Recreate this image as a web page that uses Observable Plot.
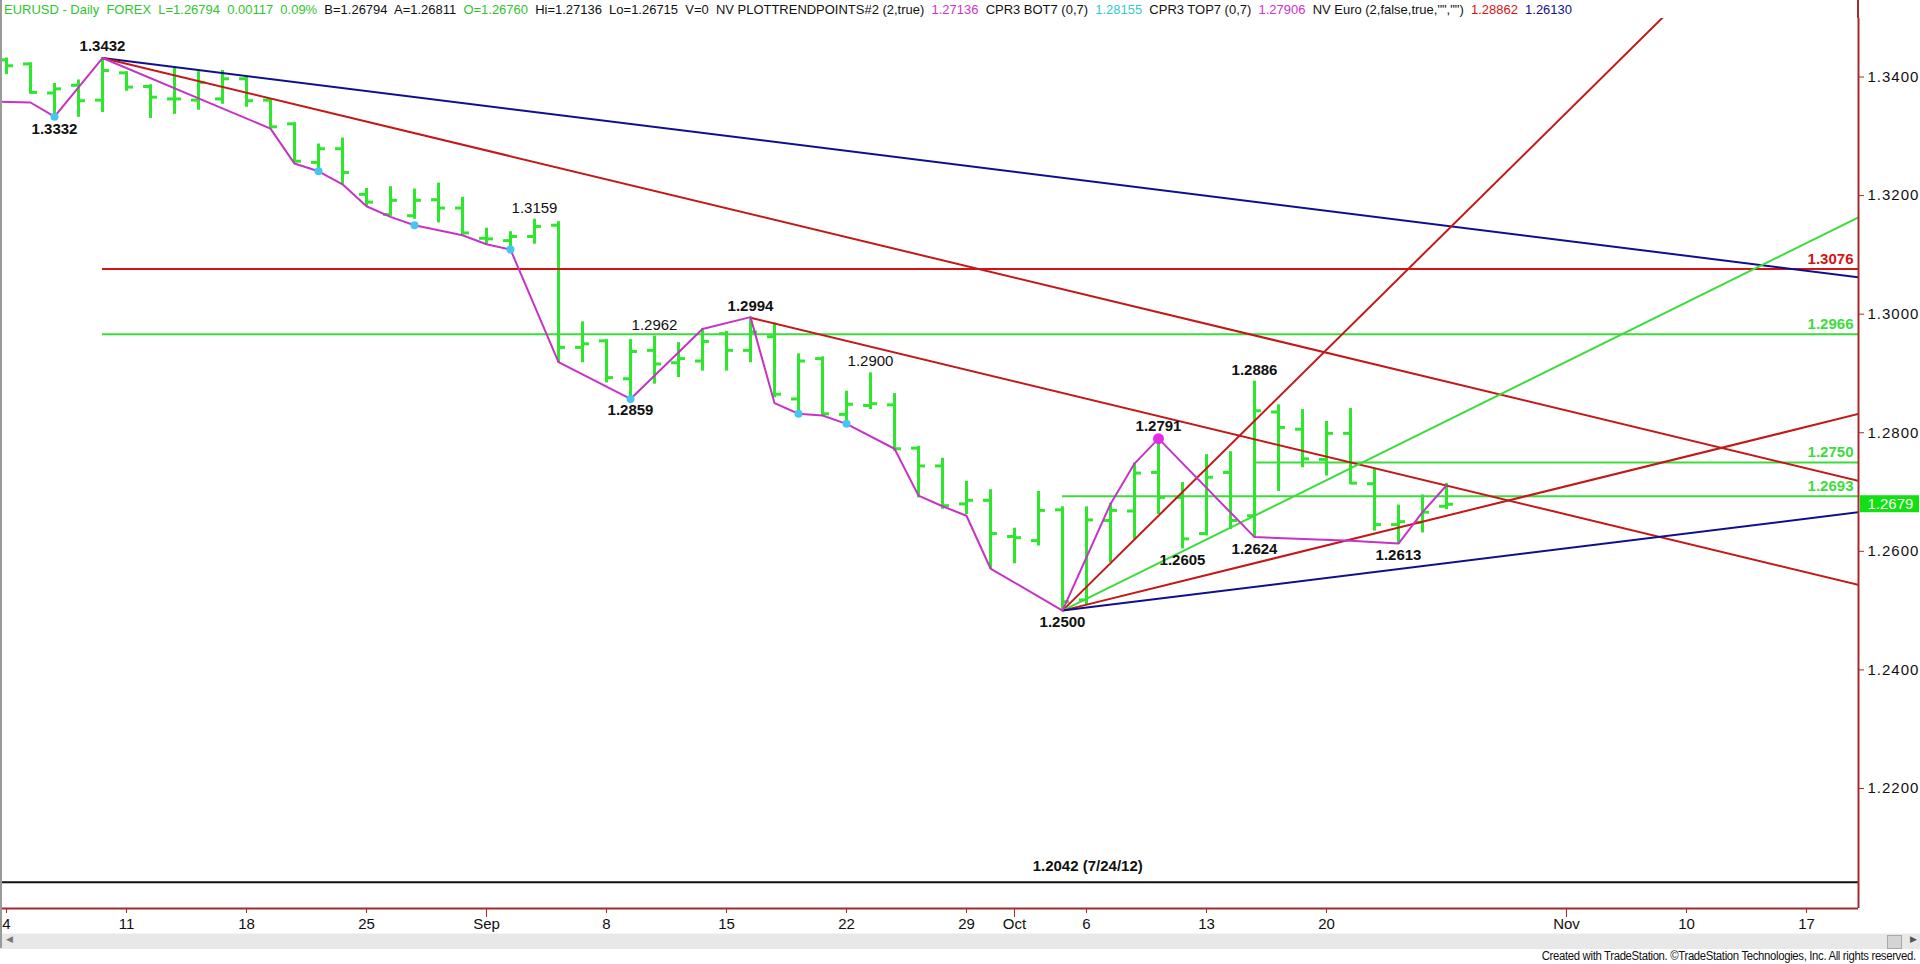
<!DOCTYPE html>
<html>
<head>
<meta charset="utf-8">
<script src="https://cdn.jsdelivr.net/npm/d3@7"></script>
<script src="https://cdn.jsdelivr.net/npm/@observablehq/plot@0.6"></script>
<style>
html,body{margin:0;padding:0;background:#fff;width:1920px;height:964px;overflow:hidden;font-family:"Liberation Sans",Arial,sans-serif;}
#wrap{position:relative;width:1920px;height:964px;}
#header{position:absolute;left:0;top:0;width:1920px;height:18px;}
#chart{position:absolute;left:0;top:18px;width:1920px;}
#scroll{position:absolute;left:0;top:933px;width:1920px;height:15px;background:#e8e8e8;border-top:1px solid #f4f4f4;}
#thumb{position:absolute;left:1887px;top:1px;width:13px;height:12px;background:#d4d4d4;border:1px solid #a8a8a8;}
#larrow{position:absolute;left:6px;top:0;font-size:9px;color:#777;}
#rarrow{position:absolute;left:1910px;top:0;font-size:9px;color:#555;}
#caption{position:absolute;right:4px;top:949px;height:14px;line-height:14px;font-size:12px;color:#111;white-space:nowrap;letter-spacing:-0.35px;transform-origin:right center;}
#leftborder{position:absolute;left:0;top:0;width:2px;height:948px;background:#9a9a9a;}
#headaxis{position:absolute;left:1857px;top:0;width:2px;height:18px;background:#a52a2a;}
[aria-label="y-axis tick label"] text{letter-spacing:1px;}
</style>
</head>
<body>
<div id="wrap">
  <div id="header"></div>
  <div id="headaxis"></div>
  <div id="chart"></div>
  <div id="scroll"><span id="larrow">&#9664;</span><div id="thumb"></div><span id="rarrow">&#9654;</span></div>
  <div id="caption"></div>
  <div id="leftborder"></div>
</div>
<script>
// ---------------- data ----------------
const barOpen  = [1.3429,1.3422,1.3373,1.3386,1.3361,1.3407,1.3384,1.3363,1.3361,1.3363,
                  1.3397,1.3361,1.3321,1.3256,1.3279,1.3202,1.3168,1.3166,1.3193,1.3179,
                  1.3128,1.3124,1.3131,1.3150,1.2944,1.2955,1.2891,1.2939,1.2918,1.2921,
                  1.2967,1.2939,1.2962,1.2857,1.2925,1.2831,1.2846,1.2847,1.2774,1.2744,
                  1.2680,1.2686,1.2625,1.2618,1.2670,1.2518,1.2652,1.2668,1.2733,1.2691,
                  1.2630,1.2733,1.2660,1.2835,1.2806,1.2755,1.2799,1.2714,1.2645,1.2649,
                  1.26760];
const barHigh  = [1.3431,1.3423,1.3388,1.3394,1.3432,1.3408,1.3386,1.3414,1.3408,1.3410,
                  1.3399,1.3361,1.3322,1.3286,1.3296,1.3211,1.3214,1.3210,1.3220,1.3196,
                  1.3144,1.3138,1.3159,1.3155,1.2986,1.2956,1.2956,1.2962,1.2951,1.2975,
                  1.2970,1.2994,1.2984,1.2932,1.2927,1.2869,1.2900,1.2865,1.2776,1.2756,
                  1.2717,1.2703,1.2638,1.2700,1.2674,1.2674,1.2680,1.2748,1.2791,1.2715,
                  1.2762,1.2767,1.2886,1.2846,1.2838,1.2818,1.2840,1.2739,1.2677,1.2694,
                  1.27136];
const barLow   = [1.3405,1.3372,1.3332,1.3333,1.3341,1.3377,1.3331,1.3338,1.3345,1.3355,
                  1.3350,1.3314,1.3256,1.3239,1.3220,1.3183,1.3166,1.3161,1.3155,1.3135,
                  1.3119,1.3113,1.3119,1.2919,1.2919,1.2885,1.2859,1.2883,1.2894,1.2905,
                  1.2905,1.2919,1.2860,1.2832,1.2829,1.2815,1.2840,1.2770,1.2691,1.2672,
                  1.2663,1.2571,1.2580,1.2610,1.2500,1.2510,1.2582,1.2621,1.2663,1.2605,
                  1.2627,1.2638,1.2624,1.2702,1.2742,1.2728,1.2714,1.2635,1.2613,1.2632,
                  1.26715];
const barClose = [1.3419,1.3374,1.3380,1.3360,1.3411,1.3383,1.3366,1.3363,1.3391,1.3397,
                  1.3360,1.3316,1.3258,1.3279,1.3239,1.3189,1.3192,1.3192,1.3179,1.3137,
                  1.3127,1.3131,1.3148,1.2944,1.2950,1.2893,1.2937,1.2916,1.2925,1.2954,
                  1.2939,1.2970,1.2865,1.2921,1.2832,1.2848,1.2849,1.2773,1.2744,1.2677,
                  1.2686,1.2630,1.2623,1.2669,1.2515,1.2653,1.2669,1.2732,1.2691,1.2621,
                  1.2725,1.2652,1.2837,1.2809,1.2756,1.2799,1.2715,1.2645,1.2650,1.2666,
                  1.26794];

// x-axis tick labels (trading-day calendar)
const xTickDates  = ["2014-08-04","2014-08-11","2014-08-18","2014-08-25","2014-09-01","2014-09-08","2014-09-15","2014-09-22","2014-09-29","2014-10-01","2014-10-06","2014-10-13","2014-10-20","2014-11-03","2014-11-10","2014-11-17"];
const xTickLabels = ["4","11","18","25","Sep","8","15","22","29","Oct","6","13","20","Nov","10","17"];
const monthTickLabels = ["Sep","Oct","Nov"];
const yTicks = [1.22,1.24,1.26,1.28,1.30,1.32,1.34];

// swing (trend point) polyline
const swingDates  = ["2014-08-01","2014-08-05","2014-08-06","2014-08-08","2014-08-19","2014-08-20","2014-08-21","2014-08-22","2014-08-25","2014-08-26","2014-08-27","2014-08-29","2014-09-01","2014-09-02","2014-09-04","2014-09-09","2014-09-12","2014-09-16","2014-09-17","2014-09-18","2014-09-19","2014-09-22","2014-09-24","2014-09-25","2014-09-26","2014-09-29","2014-09-30","2014-10-03","2014-10-07","2014-10-08","2014-10-09","2014-10-15","2014-10-21","2014-10-23","2014-10-24","2014-10-27"];
const swingValues = [1.3359,1.3357,1.3333,1.3432,1.3313,1.3254,1.3241,1.3219,1.3182,1.3164,1.3150,1.3133,1.3118,1.3109,1.2919,1.2857,1.2975,1.2995,1.2850,1.2832,1.2829,1.2815,1.2773,1.2694,1.2676,1.2660,1.2571,1.2500,1.2680,1.2748,1.2790,1.2624,1.2618,1.2613,1.2666,1.2711];

const cyanDotDates  = ["2014-08-06","2014-08-21","2014-08-27","2014-09-02","2014-09-09","2014-09-18","2014-09-22"];
const cyanDotValues = [1.3333,1.3241,1.3150,1.3109,1.2857,1.2832,1.2815];
const pinkDotDates  = ["2014-10-09"];
const pinkDotValues = [1.2790];

// swing labels
const labelDates  = ["2014-08-06","2014-08-08","2014-09-03","2014-09-09","2014-09-10","2014-09-16","2014-09-23","2014-10-03","2014-10-09","2014-10-10","2014-10-15","2014-10-15","2014-10-23"];
const labelValues = [1.3332,1.3432,1.3159,1.2859,1.2962,1.2994,1.2900,1.2500,1.2791,1.2605,1.2886,1.2624,1.2613];
const labelSides  = ["below","above","above","below","above","above","above","below","above","below","above","below","below"];
const labelBold   = [true,true,false,true,false,true,false,true,true,true,true,true,true];

// trend lines: anchor point and a second point (value on 2014-10-27)
const trendStartDates  = ["2014-08-08","2014-08-08","2014-09-16","2014-10-03","2014-10-03","2014-10-03","2014-10-03"];
const trendStartValues = [1.3432,1.3432,1.2994,1.2500,1.2500,1.2500,1.2500];
const trendEndDates    = ["2014-10-27","2014-10-27","2014-10-27","2014-10-27","2014-10-27","2014-10-27","2014-10-27"];
const trendEndValues   = [1.3149,1.28862,1.2711,1.3140,1.2820,1.2660,1.2580];
const trendColors      = ["#10108c","#c41818","#c41818","#c41818","#3ddc3d","#c41818","#10108c"];

// horizontal levels
const levelValues = [1.3076,1.2966,1.2750,1.2693];
const levelStart  = ["2014-08-08","2014-08-08","2014-10-15","2014-10-03"];
const levelColors = ["#d41414","#3ddc3d","#3ddc3d","#3ddc3d"];
const supportValue = 1.2042;
const supportText  = "1.2042 (7/24/12)";
const supportLabelDate = "2014-10-06";

// header legend
const headerTexts  = ["EURUSD - Daily  FOREX  L=1.26794  0.00117  0.09%  ","B=1.26794  A=1.26811  ","O=1.26760  ","Hi=1.27136  Lo=1.26715  V=0  NV PLOTTRENDPOINTS#2 (2,true)  ","1.27136  ","CPR3 BOT7 (0,7)  ","1.28155  ","CPR3 TOP7 (0,7)  ","1.27906  ","NV Euro (2,false,true,\"\",\"\")  ","1.28862  ","1.26130"];
const headerColors = ["#2fc42f","#111","#2fc42f","#111","#cc33cc","#111","#33cccc","#111","#cc33cc","#111","#d41414","#10108c"];
const captionText = "Created with TradeStation. \u00A9TradeStation Technologies, Inc. All rights reserved.";

// ---------------- build ----------------
const fmtDay = d3.utcFormat("%Y-%m-%d");
const calendar = d3.utcDays(new Date(Date.UTC(2014,6,28)), new Date(Date.UTC(2014,10,22)))
  .filter(d => d.getUTCDay() !== 0 && d.getUTCDay() !== 6);
const base = calendar.findIndex(d => fmtDay(d) === "2014-08-04");
const ix = s => calendar.findIndex(d => fmtDay(d) === s) - base;

const bars = barOpen.map((o, i) => ({i, open: o, high: barHigh[i], low: barLow[i], close: barClose[i]}));
const xMin = -0.25, xMax = 77.1667;
const yMin = 1.199757, yMax = 1.349867;
const plotH = 890;
const pxY = (yMax - yMin) / plotH;   // price per pixel
const pxX = (xMax - xMin) / 1858;    // index per pixel

const tickIdx = xTickDates.map(ix);
const tickLabelMap = new Map(tickIdx.map((t, k) => [t, xTickLabels[k]]));
const monthIdx = tickIdx.filter((t, k) => monthTickLabels.includes(xTickLabels[k]));

const swing = swingDates.map((d, k) => ({i: ix(d), p: swingValues[k]}));
const cyan = cyanDotDates.map((d, k) => ({i: ix(d), p: cyanDotValues[k]}));
const pink = pinkDotDates.map((d, k) => ({i: ix(d), p: pinkDotValues[k]}));
const labels = labelDates.map((d, k) => ({i: ix(d), p: labelValues[k], side: labelSides[k], bold: labelBold[k], t: d3.format(".4f")(labelValues[k])}));

const trends = trendStartDates.map((d, k) => {
  const a = ix(d), b = ix(trendEndDates[k]);
  const slope = (trendEndValues[k] - trendStartValues[k]) / (b - a);
  return {x1: a, y1: trendStartValues[k], x2: xMax, y2: trendStartValues[k] + slope * (xMax - a), c: trendColors[k]};
});
const levels = levelValues.map((v, k) => ({p: v, from: ix(levelStart[k]), c: levelColors[k], t: d3.format(".4f")(v)}));
const lastClose = barClose[barClose.length - 1];

const green = "#2ee62e";
const axisRed = "#a52a2a";
const tickLen = 0.29;

function labelMarks(side, bold) {
  return Plot.text(labels.filter(d => d.side === side && d.bold === bold), {
    x: "i", y: "p", text: "t", dy: side === "above" ? -12 : 12,
    fontSize: 15, fontWeight: bold ? "bold" : "normal", fill: "#111", letterSpacing: "0.4px"
  });
}

const chart = Plot.plot({
  width: 1920, height: 915,
  marginTop: 0, marginLeft: 0, marginRight: 62, marginBottom: 25,
  x: {domain: [xMin, xMax], axis: null},
  y: {domain: [yMin, yMax], axis: null},
  style: {fontFamily: "'Liberation Sans', Arial, sans-serif", background: "white", overflow: "visible"},
  marks: [
    // OHLC bars
    Plot.ruleX(bars, {x: "i", y1: d => d.low - 0.6 * pxY, y2: d => d.high + 0.6 * pxY, stroke: green, strokeWidth: 3}),
    Plot.ruleY(bars, {y: "open", x1: d => d.i - tickLen, x2: "i", stroke: green, strokeWidth: 3}),
    Plot.ruleY(bars, {y: "close", x1: "i", x2: d => d.i + tickLen, stroke: green, strokeWidth: 3}),
    // horizontal levels
    Plot.ruleY(levels, {y: "p", x1: "from", x2: xMax, stroke: "c", strokeWidth: 2}),
    Plot.ruleY([supportValue], {x1: xMin, x2: xMax, stroke: "#111", strokeWidth: 2}),
    // trend lines
    Plot.link(trends, {x1: "x1", y1: "y1", x2: "x2", y2: "y2", stroke: "c", strokeWidth: 2, clip: true}),
    // swing line
    Plot.line(swing, {x: "i", y: "p", stroke: "#c633c6", strokeWidth: 2, clip: true}),
    Plot.dot(cyan, {x: "i", y: "p", r: 4, fill: "#45c6f2"}),
    Plot.dot(pink, {x: "i", y: "p", r: 5.5, fill: "#e62ae6"}),
    // swing labels
    labelMarks("above", true), labelMarks("above", false),
    labelMarks("below", true), labelMarks("below", false),
    // level labels
    Plot.text(levels, {x: xMax, y: "p", text: "t", textAnchor: "end", dx: -5, dy: -10, fontSize: 15, fontWeight: "bold", fill: "c", letterSpacing: "0.4px"}),
    Plot.text([supportValue], {x: ix(supportLabelDate) + 0.05, y: d => d, text: () => supportText, dy: -16, fontSize: 15, fontWeight: "bold", fill: "#111"}),
    // axes frame lines
    Plot.ruleX([xMax], {stroke: axisRed, strokeWidth: 2}),
    Plot.ruleY([yMin], {stroke: axisRed, strokeWidth: 2}),
    // x axis
    Plot.axisX({ticks: tickIdx, tickSize: 5, tickFormat: () => "", color: axisRed}),
    Plot.axisX({ticks: monthIdx, tickSize: 9, tickFormat: () => "", color: axisRed}),
    Plot.axisX({ticks: tickIdx, tickSize: 0, tickPadding: 10, tickFormat: d => tickLabelMap.get(d), fontSize: 15, color: "#111"}),
    // y axis (right)
    Plot.axisY({anchor: "right", ticks: yTicks, tickSize: 5, tickFormat: () => "", color: axisRed}),
    Plot.axisY({anchor: "right", ticks: yTicks, tickSize: 0, tickPadding: 9, tickFormat: d3.format(".4f"), fontSize: 15, color: "#111"}),
    // last price tag
    Plot.rect([lastClose], {x1: xMax + 2 * pxX, x2: xMax + 61 * pxX, y1: d => d + 8.5 * pxY, y2: d => d - 8.5 * pxY, fill: "#12e012"}),
    Plot.text([lastClose], {x: xMax, y: d => d, text: d => d3.format(".4f")(d), textAnchor: "start", dx: 9, fontSize: 15, fill: "white", letterSpacing: "1px"})
  ]
});
document.getElementById("chart").appendChild(chart);

// header legend
const hs = d3.select("#header").append("svg").attr("width", 1920).attr("height", 18);
const ht = hs.append("text").attr("x", 4).attr("y", 14).attr("font-size", 13)
  .attr("font-family", "'Liberation Sans', Arial, sans-serif")
  .attr("textLength", 1568).attr("lengthAdjust", "spacingAndGlyphs").style("white-space", "pre");
headerTexts.forEach((t, k) => ht.append("tspan").attr("fill", headerColors[k]).text(t));

// caption (HTML text, fitted to the reference width)
const cap = document.getElementById("caption");
cap.textContent = captionText;
const w = cap.getBoundingClientRect().width;
if (w > 374) cap.style.transform = `scaleX(${374 / w})`;
</script>
</body>
</html>
